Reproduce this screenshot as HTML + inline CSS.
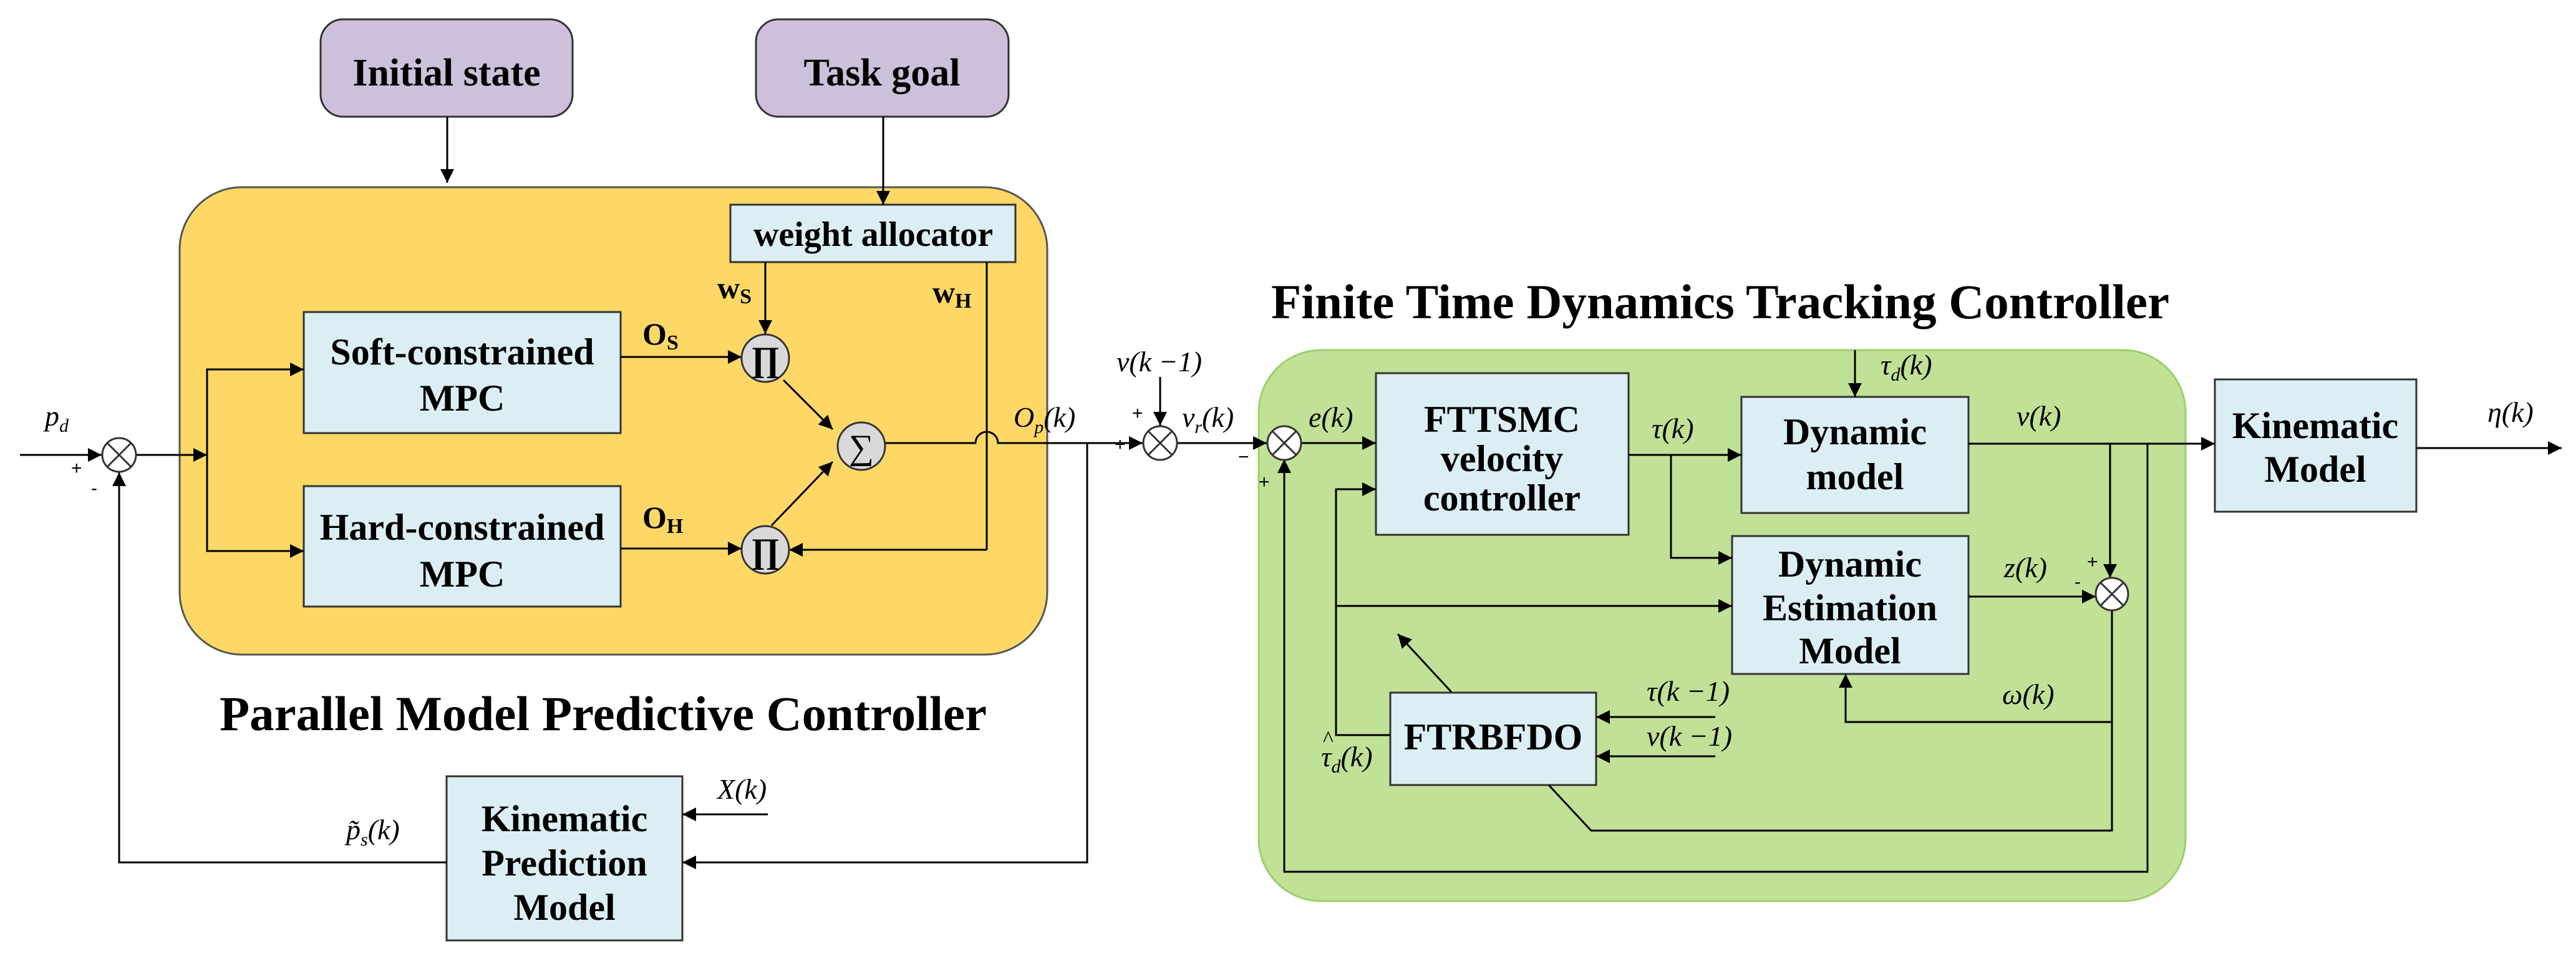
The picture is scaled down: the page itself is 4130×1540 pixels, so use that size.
<!DOCTYPE html>
<html><head><meta charset="utf-8"><style>
html,body{margin:0;padding:0;background:#fff;}
svg{display:block}
.b{font-family:"Liberation Serif",serif;font-weight:bold;fill:#000}
.i{font-family:"Liberation Serif",serif;font-style:italic;fill:#000}
.s{font-family:"Liberation Sans",sans-serif;fill:#000}
</style></head><body>
<svg width="4130" height="1540" viewBox="0 0 4130 1540" xmlns="http://www.w3.org/2000/svg">
<defs>
<marker id="A" viewBox="0 0 10 10" refX="10" refY="5" markerWidth="24" markerHeight="22" orient="auto" markerUnits="userSpaceOnUse"><path d="M0,0 L10,5 L0,10 z" fill="#000"/></marker>
</defs>
<g stroke="#333" stroke-width="3">
<rect x="514" y="31" width="404" height="156" rx="36" fill="#ccc0da"/>
<rect x="1212" y="31" width="405" height="156" rx="36" fill="#ccc0da"/>
<rect x="288" y="300" width="1391" height="749" rx="100" fill="#fdd866" stroke="#555"/>
<rect x="2018" y="561" width="1486" height="883" rx="100" fill="#c0e196" stroke="#9ccf6c"/>
<rect x="1171" y="328" width="457" height="92" fill="#dbeef3"/>
<rect x="487" y="500" width="508" height="194" fill="#dbeef3"/>
<rect x="487" y="779" width="508" height="193" fill="#dbeef3"/>
<rect x="716" y="1244" width="378" height="263" fill="#dbeef3"/>
<rect x="2206" y="598" width="405" height="259" fill="#dbeef3"/>
<rect x="2792" y="636" width="364" height="186" fill="#dbeef3"/>
<rect x="2777" y="859" width="379" height="221" fill="#dbeef3"/>
<rect x="2229" y="1110" width="330" height="148" fill="#dbeef3"/>
<rect x="3551" y="608" width="323" height="212" fill="#dbeef3"/>
</g>
<g stroke="#000" stroke-width="3" fill="none">
<line x1="717" y1="187" x2="717" y2="293" marker-end="url(#A)"/>
<line x1="1416" y1="187" x2="1416" y2="328" marker-end="url(#A)"/>
<line x1="32" y1="729" x2="163" y2="729" marker-end="url(#A)"/>
<line x1="219" y1="729" x2="332" y2="729" marker-end="url(#A)"/>
<polyline points="487,592 332,592 332,883 487,883"/>
<line x1="332" y1="592" x2="487" y2="592" marker-end="url(#A)"/>
<line x1="332" y1="883" x2="487" y2="883" marker-end="url(#A)"/>
<line x1="995" y1="572" x2="1189" y2="572" marker-end="url(#A)"/>
<line x1="995" y1="879" x2="1189" y2="879" marker-end="url(#A)"/>
<line x1="1227" y1="420" x2="1227" y2="535" marker-end="url(#A)"/>
<polyline points="1582,420 1582,881"/>
<line x1="1582" y1="881" x2="1265" y2="881" marker-end="url(#A)"/>
<line x1="1256" y1="609" x2="1335" y2="688" marker-end="url(#A)"/>
<line x1="1237" y1="842" x2="1335" y2="740" marker-end="url(#A)"/>
<path d="M1420,710 L1564,710 A18,18 0 0 1 1600,710 L1832,710" marker-end="url(#A)"/>
<line x1="1860" y1="604" x2="1860" y2="682" marker-end="url(#A)"/>
<polyline points="1743,710 1743,1382 1094,1382"/>
<line x1="1743" y1="1382" x2="1094" y2="1382" marker-end="url(#A)"/>
<line x1="1231" y1="1305" x2="1094" y2="1305" marker-end="url(#A)"/>
<polyline points="716,1382 191,1382 191,757"/>
<line x1="191" y1="1382" x2="191" y2="757" marker-end="url(#A)"/>
<line x1="1888" y1="710" x2="2031" y2="710" marker-end="url(#A)"/>
<line x1="2085" y1="710" x2="2206" y2="710" marker-end="url(#A)"/>
<line x1="2611" y1="729" x2="2792" y2="729" marker-end="url(#A)"/>
<polyline points="2679,729 2679,894 2777,894"/>
<line x1="2679" y1="894" x2="2777" y2="894" marker-end="url(#A)"/>
<line x1="2974" y1="561" x2="2974" y2="636" marker-end="url(#A)"/>
<line x1="3156" y1="711" x2="3551" y2="711" marker-end="url(#A)"/>
<line x1="3383" y1="711" x2="3383" y2="926" marker-end="url(#A)"/>
<line x1="3156" y1="956" x2="3360" y2="956" marker-end="url(#A)"/>
<polyline points="3386,978 3386,1331 2551,1331 2483,1258"/>
<polyline points="3386,1157 2959,1157 2959,1080"/>
<line x1="2959" y1="1157" x2="2959" y2="1080" marker-end="url(#A)"/>
<polyline points="3443,711 3443,1397 2059,1397 2059,736"/>
<line x1="2059" y1="1000" x2="2059" y2="736" marker-end="url(#A)"/>
<polyline points="2229,1178 2142,1178 2142,784 2206,784"/>
<line x1="2142" y1="784" x2="2206" y2="784" marker-end="url(#A)"/>
<line x1="2142" y1="971" x2="2777" y2="971" marker-end="url(#A)"/>
<line x1="2327" y1="1109" x2="2241" y2="1016" marker-end="url(#A)"/>
<line x1="2750" y1="1149" x2="2559" y2="1149" marker-end="url(#A)"/>
<line x1="2750" y1="1212" x2="2559" y2="1212" marker-end="url(#A)"/>
<line x1="3874" y1="718" x2="4107" y2="718" marker-end="url(#A)"/>
</g>
<g stroke="#333" stroke-width="3">
<circle cx="1227" cy="574" r="38" fill="#d9d9d9"/>
<circle cx="1227" cy="881" r="38" fill="#d9d9d9"/>
<circle cx="1381" cy="715" r="38" fill="#d9d9d9"/>
<g fill="#fff">
<circle cx="191" cy="729" r="27"/>
<circle cx="1860" cy="710" r="27"/>
<circle cx="2059" cy="710" r="27"/>
<circle cx="3386" cy="952" r="26"/>
</g>
<path d="M172,710 L210,748 M210,710 L172,748 M1841,691 L1879,729 M1879,691 L1841,729 M2040,691 L2078,729 M2078,691 L2040,729 M3368,934 L3404,970 M3404,934 L3368,970" fill="none"/>
</g>
<g class="b" text-anchor="middle" font-size="60">
<text x="1227" y="594" font-size="56">∏</text><text x="1227" y="901" font-size="56">∏</text><text x="1381" y="735" font-size="56" font-weight="normal">∑</text>
<text x="716" y="137" font-size="62">Initial state</text>
<text x="1414" y="137" font-size="62">Task goal</text>
<text x="1400" y="394" font-size="56">weight allocator</text>
<text x="741" y="584">Soft-constrained</text><text x="741" y="658">MPC</text>
<text x="741" y="865">Hard-constrained</text><text x="741" y="940">MPC</text>
<text x="905" y="1332">Kinematic</text><text x="905" y="1403">Prediction</text><text x="905" y="1474">Model</text>
<text x="2408" y="692">FTTSMC</text><text x="2408" y="755">velocity</text><text x="2408" y="818">controller</text>
<text x="2974" y="712">Dynamic</text><text x="2974" y="784">model</text>
<text x="2966" y="924">Dynamic</text><text x="2966" y="994">Estimation</text><text x="2966" y="1063">Model</text>
<text x="2394" y="1201">FTRBFDO</text>
<text x="3712" y="702">Kinematic</text><text x="3712" y="772">Model</text>
<text x="967" y="1170" font-size="78" textLength="1230" lengthAdjust="spacingAndGlyphs">Parallel Model Predictive Controller</text>
<text x="2758" y="510" font-size="78" textLength="1440" lengthAdjust="spacingAndGlyphs">Finite Time Dynamics Tracking Controller</text>
</g>
<g class="b" font-size="50">
<text x="1030" y="552">O<tspan font-size="34" dy="8">S</tspan></text>
<text x="1030" y="846">O<tspan font-size="34" dy="8">H</tspan></text>
<text x="1150" y="478">w<tspan font-size="34" dy="8">S</tspan></text>
<text x="1495" y="485">w<tspan font-size="34" dy="8">H</tspan></text>
</g>
<g class="i" font-size="46">
<text x="72" y="682">p<tspan font-size="30" dy="10">d</tspan></text>
<text x="1625" y="684">O<tspan font-size="30" dy="10">p</tspan><tspan dy="-10">(k)</tspan></text>
<text x="1790" y="595">v(k −1)</text>
<text x="1895" y="684">v<tspan font-size="30" dy="10">r</tspan><tspan dy="-10">(k)</tspan></text>
<text x="1150" y="1280">X(k)</text>
<text x="555" y="1345">p̃<tspan font-size="30" dy="10">s</tspan><tspan dy="-10">(k)</tspan></text>
<text x="2098" y="684">e(k)</text>
<text x="2648" y="702">τ(k)</text>
<text x="3015" y="600">τ<tspan font-size="30" dy="10">d</tspan><tspan dy="-10">(k)</tspan></text>
<text x="3233" y="682">v(k)</text>
<text x="3213" y="925">z(k)</text>
<text x="3210" y="1128">ω(k)</text>
<text x="2640" y="1123">τ(k −1)</text>
<text x="2640" y="1195">v(k −1)</text>
<text x="2118" y="1228">τ<tspan font-size="30" dy="10">d</tspan><tspan dy="-10">(k)</tspan></text>
<text x="2121" y="1196" font-style="normal" font-size="36">^</text>
<text x="3988" y="676">η(k)</text>
</g>
<g class="s" font-size="30">
<text x="114" y="760">+</text><text x="146" y="792">-</text>
<text x="1787" y="722">+</text><text x="1815" y="672">+</text>
<text x="1985" y="742">−</text><text x="2018" y="782">+</text>
<text x="3346" y="910">+</text><text x="3326" y="942">-</text>
</g>
</svg>
</body></html>
